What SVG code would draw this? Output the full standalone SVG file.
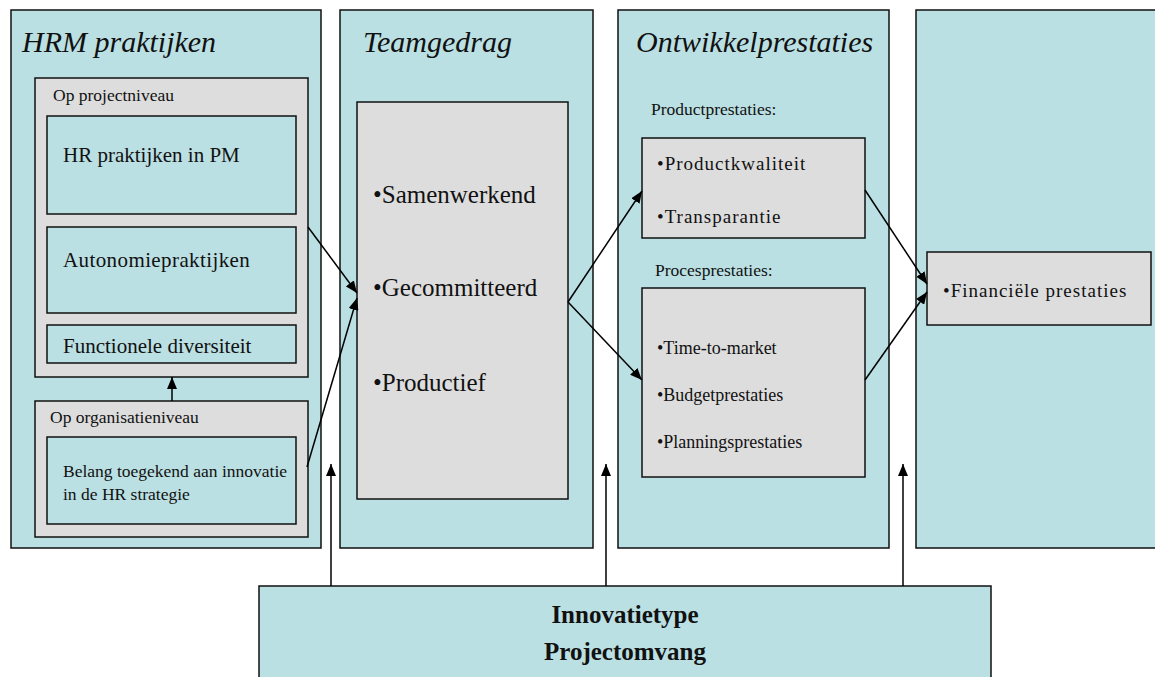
<svg xmlns="http://www.w3.org/2000/svg" width="1155" height="677" viewBox="0 0 1155 677" font-family="'Liberation Serif', 'Times New Roman', Tinos, 'DejaVu Serif', serif">
  <defs>
    <marker id="arrow" viewBox="0 0 12 10" refX="12" refY="5" markerWidth="12" markerHeight="10" markerUnits="userSpaceOnUse" orient="auto">
      <path d="M0,0 L12,5 L0,10 Z" fill="#000"/>
    </marker>
  </defs>
  <style>
    .col { fill: #BBE0E3; stroke: #111; stroke-width: 1.5; }
    .grey { fill: #DDDDDD; stroke: #111; stroke-width: 1.5; }
    .inner { fill: #BBE0E3; stroke: #111; stroke-width: 1.5; }
    text { fill: #111; }
    .title { font-size: 30px; font-style: italic; }
    .sub { font-size: 17.5px; }
    .item { font-size: 21px; }
    .small { font-size: 17.5px; }
    .big { font-size: 25px; }
    .perf { font-size: 19px; letter-spacing: 1px; }
    .proc { font-size: 18px; }
    .bold { font-size: 25px; font-weight: bold; }
    .link { stroke: #000; stroke-width: 1.5; fill: none; marker-end: url(#arrow); }
  </style>

  <!-- HRM practices column -->
  <g id="hrm">
    <rect class="col" x="11" y="10" width="310" height="538"/>
    <text class="title" x="22" y="52">HRM praktijken</text>
    <g id="projectniveau">
      <rect class="grey" x="35" y="78" width="273" height="299"/>
      <text class="sub" x="53" y="101">Op projectniveau</text>
      <g id="hr-pm">
        <rect class="inner" x="47" y="116" width="249" height="98"/>
        <text class="item" x="63" y="162">HR praktijken in PM</text>
      </g>
      <g id="autonomie">
        <rect class="inner" x="47" y="227" width="249" height="86"/>
        <text class="item" x="63" y="267" letter-spacing="0.4">Autonomiepraktijken</text>
      </g>
      <g id="diversiteit">
        <rect class="inner" x="47" y="325" width="249" height="38"/>
        <text class="item" x="63" y="353">Functionele diversiteit</text>
      </g>
    </g>
    <g id="organisatieniveau">
      <rect class="grey" x="35" y="401" width="273" height="136"/>
      <text class="sub" x="50" y="423">Op organisatieniveau</text>
      <g id="belang">
        <rect class="inner" x="47" y="437" width="249" height="87"/>
        <text class="small" x="63" y="477">Belang toegekend aan innovatie</text>
        <text class="small" x="63" y="500">in de HR strategie</text>
      </g>
    </g>
  </g>

  <!-- Team behaviour column -->
  <g id="teamgedrag">
    <rect class="col" x="340" y="10" width="253" height="538"/>
    <text class="title" x="363" y="52">Teamgedrag</text>
    <rect class="grey" x="357" y="102" width="211" height="397"/>
    <text class="big" x="373" y="203">•Samenwerkend</text>
    <text class="big" x="373" y="296">•Gecommitteerd</text>
    <text class="big" x="373" y="391">•Productief</text>
  </g>

  <!-- Development performance column -->
  <g id="ontwikkelprestaties">
    <rect class="col" x="618" y="10" width="271" height="538"/>
    <text class="title" x="636" y="52">Ontwikkelprestaties</text>
    <text class="sub" x="651" y="115">Productprestaties:</text>
    <g id="product">
      <rect class="grey" x="642" y="138" width="223" height="100"/>
      <text class="perf" x="657" y="170">•Productkwaliteit</text>
      <text class="perf" x="657" y="223">•Transparantie</text>
    </g>
    <text class="sub" x="655" y="276">Procesprestaties:</text>
    <g id="proces">
      <rect class="grey" x="642" y="288" width="223" height="189"/>
      <text class="proc" x="657" y="354">•Time-to-market</text>
      <text class="proc" x="657" y="401">•Budgetprestaties</text>
      <text class="proc" x="657" y="448">•Planningsprestaties</text>
    </g>
  </g>

  <!-- Financial performance column -->
  <g id="financieel">
    <rect class="col" x="916" y="10" width="260" height="538"/>
    <rect class="grey" x="927" y="252" width="224" height="73"/>
    <text class="perf" x="943" y="297">•Financiële prestaties</text>
  </g>

  <!-- Moderators -->
  <g id="moderatoren">
    <rect class="col" x="259" y="586" width="732" height="110"/>
    <text class="bold" x="625" y="623" text-anchor="middle">Innovatietype</text>
    <text class="bold" x="625" y="660" text-anchor="middle">Projectomvang</text>
  </g>

  <!-- Connectors -->
  <g id="connectors">
    <line class="link" x1="172" y1="401" x2="172" y2="377"/>
    <line class="link" x1="308" y1="227" x2="357" y2="293"/>
    <line class="link" x1="307" y1="467" x2="357" y2="298"/>
    <line class="link" x1="568" y1="302" x2="642" y2="191"/>
    <line class="link" x1="568" y1="302" x2="642" y2="380"/>
    <line class="link" x1="865" y1="190" x2="927" y2="284"/>
    <line class="link" x1="865" y1="380" x2="927" y2="292"/>
    <line class="link" x1="331" y1="586" x2="331" y2="464"/>
    <line class="link" x1="606" y1="586" x2="606" y2="464"/>
    <line class="link" x1="903" y1="586" x2="903" y2="464"/>
  </g>
</svg>
